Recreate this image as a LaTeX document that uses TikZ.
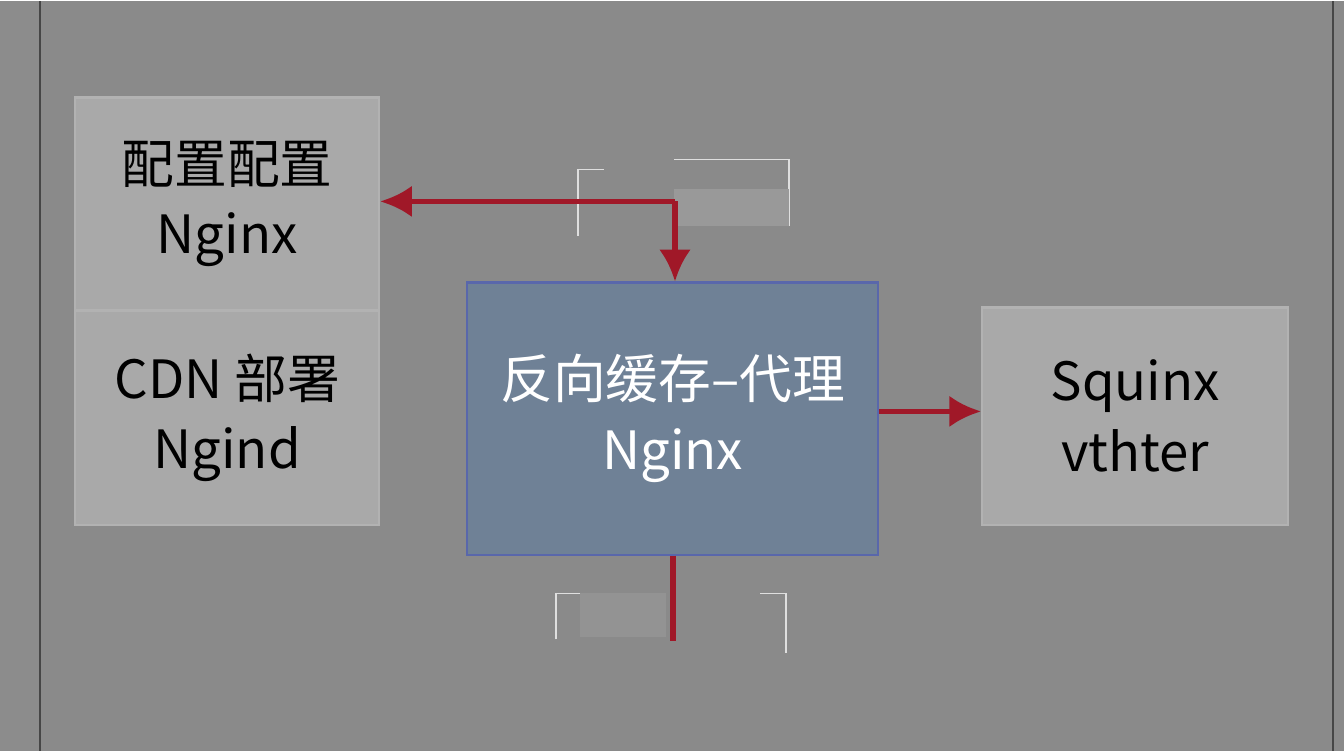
\documentclass[tikz,border=0pt]{standalone}
\usepackage{fontspec}
\setmainfont{Noto Sans CJK SC}
\usetikzlibrary{positioning,arrows.meta}
\definecolor{bggray}{HTML}{8A8A8A}
\definecolor{boxgray}{HTML}{A9A9A9}
\definecolor{boxblue}{HTML}{6F8196}
\definecolor{arrowred}{HTML}{A01828}
\tikzset{
	box/.style={draw=gray!60, fill=boxgray, line width=0.6pt, align=center, font=\fontsize{15}{20}\selectfont, text=black, inner sep=0pt},
	link/.style={draw=arrowred, line width=1.6pt},
	tip/.style={-{Latex[length=9pt,width=9pt]}},
	ghost/.style={draw=gray!25, line width=0.5pt},
}
\begin{document}
\begin{tikzpicture}[x=0.01cm, y=-0.01cm]
		\fill[bggray] (0, 0) rectangle (1344, 750);
		\fill[gray!90] (0, 0) rectangle (40, 750);
		\draw[gray!55!black, line width=0.8pt] (40, 0) -- (40, 750);
		\draw[gray!55!black, line width=0.8pt] (1333, 0) -- (1333, 750);
		\node[box, minimum width=3.04cm, minimum height=2.13cm, anchor=north west] (config) at (74, 95) {配置配置\\Nginx};
		\node[box, minimum width=3.04cm, minimum height=2.14cm, anchor=north west] (cdn) at (74, 308) {CDN 部署\\Ngind};
		\node[box, fill=boxblue, draw=boxblue!80!blue, text=white, minimum width=4.11cm, minimum height=2.72cm, anchor=north west] (proxy) at (466, 280) {反向缓存–代理\\Nginx};
		\node[box, minimum width=3.06cm, minimum height=2.17cm, anchor=north west] (squid) at (981, 305) {Squinx\\vthter};
		% faint ghost marks
		\draw[ghost] (578, 168) -- (604, 168) (578, 168) -- (578, 235) (674, 158) -- (789, 158) -- (789, 225);
		\fill[gray!80] (674, 188) rectangle (789, 225);
		\draw[ghost] (556, 638) -- (556, 592) -- (580, 592) (760, 592) -- (786, 592) -- (786, 652);
		\fill[gray!85] (580, 592) rectangle (666, 636);
		\coordinate (split) at (675, 200);
		\coordinate (below) at (673, 640);
		\draw[link, tip] (split) -- (config.east |- split);
		\draw[link, tip] (split) -- (split |- proxy.north);
		\draw[link, tip] (proxy.east |- 0, 410) -- (squid.west |- 0, 410);
		\draw[link] (proxy.south -| below) -- (below);
\end{tikzpicture}
\end{document}
